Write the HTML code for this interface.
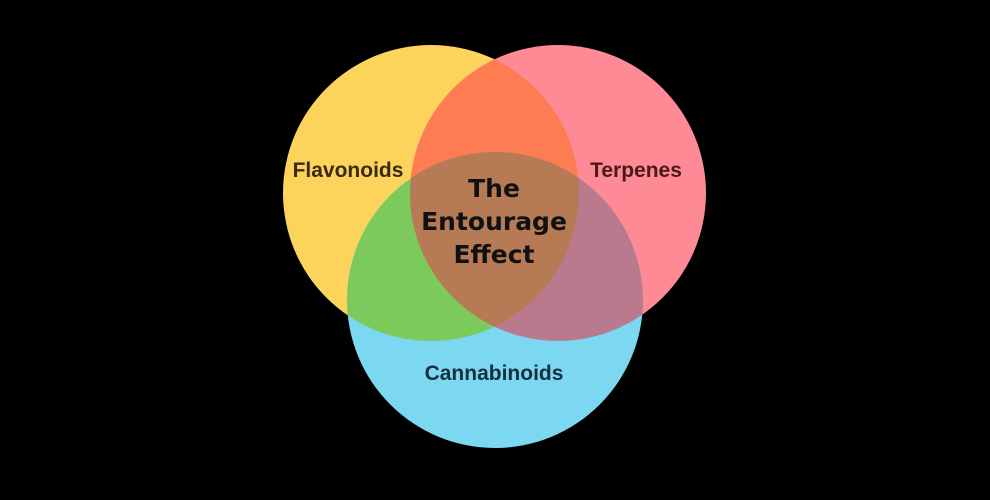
<!DOCTYPE html>
<html><head><style>
html,body{margin:0;padding:0;background:#000;}
svg{display:block}
text{font-family:"DejaVu Sans","Liberation Sans",sans-serif;font-weight:bold;text-anchor:middle;}
text.s{font-family:"Liberation Sans",sans-serif;}
</style></head><body>
<svg width="990" height="500" viewBox="0 0 990 500">
<defs>
<clipPath id="cy"><circle cx="431" cy="193" r="148"/></clipPath>
<clipPath id="cp"><circle cx="558" cy="193" r="148"/></clipPath>
</defs>
<rect width="990" height="500" fill="#000"/>
<circle cx="431" cy="193" r="148" fill="#fcd45c"/>
<circle cx="558" cy="193" r="148" fill="#fd8a94"/>
<circle cx="495" cy="300" r="148" fill="#7cd8f0"/>
<circle cx="558" cy="193" r="148" fill="#fd7c52" clip-path="url(#cy)"/>
<circle cx="495" cy="300" r="148" fill="#7cca5c" clip-path="url(#cy)"/>
<circle cx="495" cy="300" r="148" fill="#b97a8e" clip-path="url(#cp)"/>
<g clip-path="url(#cy)"><circle cx="495" cy="300" r="148" fill="#b67a55" clip-path="url(#cp)"/></g>
<text class="s" x="348" y="177" font-size="21" fill="#3a2a10">Flavonoids</text>
<text class="s" x="636" y="177" font-size="21" fill="#4a1a1a">Terpenes</text>
<text class="s" x="494" y="380" font-size="21" fill="#123040">Cannabinoids</text>
<text x="494" y="197" font-size="25" fill="#111">The</text>
<text x="494" y="230" font-size="25" fill="#111">Entourage</text>
<text x="494" y="263" font-size="25" fill="#111">Effect</text>
</svg>
</body></html>
